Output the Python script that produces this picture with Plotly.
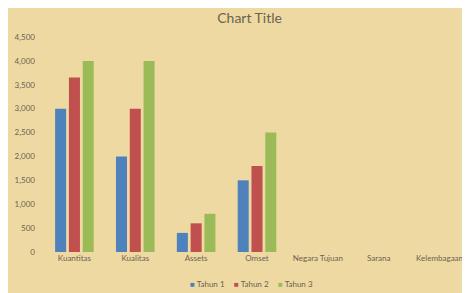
import plotly.graph_objects as go

categories = ["Kuantitas", "Kualitas", "Assets", "Omset", "Negara Tujuan", "Sarana", "Kelembagaan"]
tahun1 = [3000, 2000, 400, 1500, None, None, None]
tahun2 = [3650, 3000, 600, 1800, None, None, None]
tahun3 = [4000, 4000, 800, 2500, None, None, None]
series_names = ["Tahun 1", "Tahun 2", "Tahun 3"]
colors = ["#4F81BD", "#C0504D", "#9BBB59"]

fig = go.Figure()
for name, vals, c in zip(series_names, [tahun1, tahun2, tahun3], colors):
    fig.add_trace(go.Bar(x=categories, y=vals, name=name, showlegend=False,
                         marker=dict(color=c, line=dict(width=0))))

txt = "#6a634f"
# the page body adds an 8px offset, so layout coordinates are shifted by -8
L, T, B = 36, 29, 49
plot_w = 470 - 8 - L
plot_h = 293 - T - B
legend_x = [180, 224, 268]
for name, c, lx in zip(series_names, colors, legend_x):
    fig.add_annotation(
        text=f"<span style='color:{c}'>■</span> {name}",
        xref="paper", yref="paper", x=(lx - L) / plot_w, y=-(276 - (T + plot_h)) / plot_h,
        xanchor="left", yanchor="middle", showarrow=False,
        font=dict(size=8, color=txt),
    )

fig.update_layout(
    width=470, height=293,
    margin=dict(l=L, r=8, t=T, b=B),
    paper_bgcolor="#EFD9A3",
    plot_bgcolor="rgba(0,0,0,0)",
    font=dict(family="Lato, Open Sans, sans-serif", size=8, color=txt),
    title=dict(text="Chart Title", x=0.514, xanchor="center", y=0.966, yanchor="middle",
               font=dict(size=14, color=txt)),
    barmode="group", bargap=0.32, bargroupgap=0.2,
    showlegend=False,
    xaxis=dict(range=[-0.5, 6.5], showgrid=False, showline=False, ticks="", zeroline=False,
               tickfont=dict(size=8, color=txt), fixedrange=True),
    yaxis=dict(range=[0, 4500], dtick=500, tickformat=",", showgrid=False, showline=False,
               zeroline=False, ticks="", ticklabelstandoff=8,
               tickfont=dict(size=8, color=txt)),
)
fig.write_html("out.html")
